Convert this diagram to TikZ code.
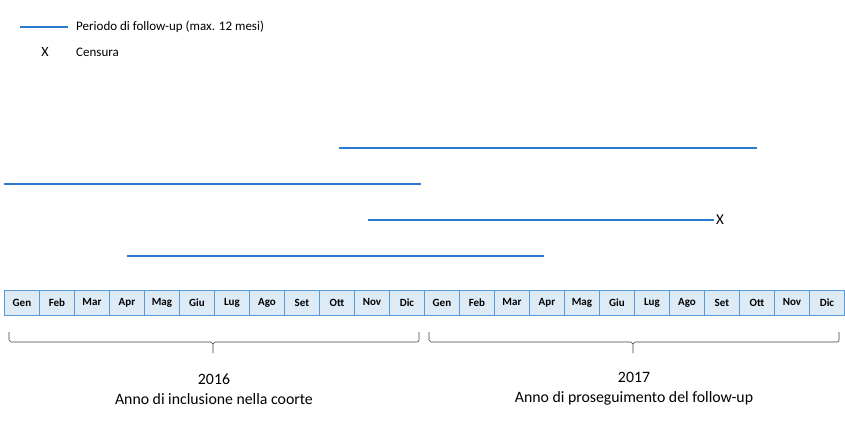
\documentclass[tikz,border=0pt]{standalone}
\usepackage{fontspec}
\setmainfont{Carlito}
\definecolor{fuline}{HTML}{2A7BD0}
\definecolor{cellfill}{HTML}{DDEBF7}
\definecolor{cellborder}{HTML}{5B9BD5}
\begin{document}
\begin{tikzpicture}[x=1pt,y=-1pt,
  fuperiod/.style={draw=fuline,line width=1.6pt},
  cell/.style={draw=cellborder,fill=cellfill,line width=0.9pt,minimum width=35pt,minimum height=25pt,inner sep=0pt,font=\fontsize{11}{12}\selectfont\bfseries,anchor=north west},
  bracec/.style={draw=black!75,line width=0.6pt},
  legendtxt/.style={font=\fontsize{13}{15}\selectfont,anchor=west,inner sep=0pt},
  yeartxt/.style={font=\fontsize{15.8}{20}\selectfont,align=center,inner sep=0pt}]
\useasboundingbox (0,0) rectangle (845,425);
% legend
\coordinate (l1a) at (20,27);
\coordinate (l1b) at (68,27);
\draw[fuperiod] (l1a) -- (l1b);
\node[legendtxt] (leg1) at (76,27) {Periodo di follow-up (max. 12 mesi)};
\node[font=\fontsize{14}{15}\selectfont,inner sep=0pt] (legx) at (45,52) {X};
\node[legendtxt] (leg2) at (76,52) {Censura};
% follow-up periods
\coordinate (p1a) at (339,148); \coordinate (p1b) at (757,148);
\coordinate (p2a) at (4,184);   \coordinate (p2b) at (421,184);
\coordinate (p3a) at (368,220); \coordinate (p3b) at (714,220);
\coordinate (p4a) at (127,256); \coordinate (p4b) at (544,256);
\draw[fuperiod] (p1a) -- (p1b);
\draw[fuperiod] (p2a) -- (p2b);
\draw[fuperiod] (p3a) -- (p3b);
\draw[fuperiod] (p4a) -- (p4b);
\node[font=\fontsize{15}{15}\selectfont,inner sep=0pt] (cens) at (720,220) {X};
% months
\foreach \m [count=\i from 0] in {Gen,Feb,Mar,Apr,Mag,Giu,Lug,Ago,Set,Ott,Nov,Dic,Gen,Feb,Mar,Apr,Mag,Giu,Lug,Ago,Set,Ott,Nov,Dic}{
  \node[cell] (m\i) at ({4+35*\i},289.5) {\m};
}
% braces
\draw[bracec] (9,332) -- (9,340) to[out=90,in=180] (11,342) -- (211,342) to[out=0,in=-90] (213,344) -- (213,353);
\draw[bracec] (213,344) to[out=-90,in=180] (215,342) -- (417,342) to[out=0,in=-90] (419,340) -- (419,332);
\draw[bracec] (429,332) -- (429,340) to[out=90,in=180] (431,342) -- (631,342) to[out=0,in=-90] (633,344) -- (633,353);
\draw[bracec] (633,344) to[out=-90,in=180] (635,342) -- (837,342) to[out=0,in=-90] (839,340) -- (839,332);
\node[yeartxt] (y1) at (214,389) {2016\\Anno di inclusione nella coorte};
\node[yeartxt] (y2) at (634,389) {2017\\Anno di proseguimento del follow-up};
\end{tikzpicture}
\end{document}
